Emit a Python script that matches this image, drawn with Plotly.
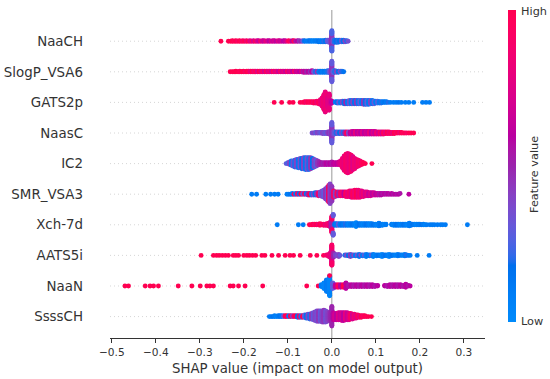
import numpy as np
import plotly.graph_objects as go

# ---------------- data ----------------
# each entry: (SHAP value, number of samples at that value, normalised feature value 0=low..1=high)
features = ["NaaCH", "SlogP_VSA6", "GATS2p", "NaasC", "IC2",
            "SMR_VSA3", "Xch-7d", "AATS5i", "NaaN", "SsssCH"]

naach = [(-0.252,1,1.0),(-0.235,1,1.0),(-0.230,1,1.0),(-0.226,2,1.0),(-0.222,1,0.95),(-0.218,2,1.0),
         (-0.214,1,0.9),(-0.210,2,1.0),(-0.206,1,0.95),(-0.202,2,0.9),(-0.198,1,1.0),(-0.194,2,0.85),
         (-0.190,1,1.0),(-0.186,2,0.75),(-0.182,1,0.9),(-0.178,2,0.7),(-0.174,1,0.95),(-0.170,2,0.75),
         (-0.166,2,0.65),(-0.162,1,0.9),(-0.158,2,0.7),(-0.154,2,0.65),(-0.150,1,0.8),(-0.146,2,0.7),
         (-0.142,2,0.6),(-0.138,1,0.75),(-0.134,2,0.65),(-0.130,2,0.7),(-0.126,1,0.6),(-0.122,2,0.75),
         (-0.118,2,0.65),(-0.114,1,0.7),(-0.110,2,0.6),(-0.106,2,0.65),(-0.102,1,0.75),(-0.098,2,0.95),
         (-0.094,1,0.9),(-0.090,2,0.6),(-0.086,2,0.95),(-0.082,1,0.55),(-0.078,2,0.6),(-0.074,2,0.45),
         (-0.070,1,0.5),(-0.066,2,0.3),(-0.062,2,0.15),(-0.058,1,0.1),(-0.054,2,0.1),(-0.050,2,0.15),
         (-0.046,2,0.1),(-0.042,2,0.05),(-0.038,2,0.1),(-0.034,2,0.1),(-0.030,3,0.15),(-0.026,3,0.1),
         (-0.022,3,0.1),(-0.018,3,0.2),(-0.014,4,0.15),(-0.010,4,0.3),(-0.006,5,0.3),(-0.003,7,0.4),
         (0.0,26,0.45),(0.0,14,0.25),
         (0.003,6,0.35),(0.006,5,0.2),(0.010,5,0.15),(0.014,5,0.2),(0.018,4,0.15),(0.022,4,0.3),
         (0.026,4,0.15),(0.030,3,0.4),(0.034,2,0.2),(0.037,1,0.35)]

slogp_vsa6 = [(-0.231,1,1.0),(-0.226,1,1.0),(-0.222,1,1.0),(-0.218,2,1.0),(-0.213,1,1.0),(-0.209,2,0.95),
              (-0.205,1,1.0),(-0.201,2,1.0),(-0.197,1,0.9),(-0.193,2,1.0),(-0.189,2,0.95),(-0.185,2,0.8),
              (-0.181,2,1.0),(-0.177,2,0.85),(-0.173,2,0.95),(-0.169,2,0.75),(-0.165,2,1.0),(-0.161,2,0.8),
              (-0.157,2,0.9),(-0.153,2,0.7),(-0.149,2,0.95),(-0.145,2,0.75),(-0.141,2,0.85),(-0.137,2,0.7),
              (-0.133,2,0.95),(-0.129,2,0.75),(-0.125,2,0.85),(-0.121,2,0.65),(-0.117,2,0.9),(-0.113,2,0.7),
              (-0.109,2,0.8),(-0.105,2,0.65),(-0.101,2,0.9),(-0.097,2,0.7),(-0.093,2,0.8),(-0.089,2,0.6),
              (-0.085,2,0.9),(-0.081,2,0.65),(-0.077,2,0.7),(-0.073,2,0.6),(-0.069,2,0.75),(-0.065,3,0.55),
              (-0.061,3,0.65),(-0.057,3,0.5),(-0.053,3,0.6),(-0.049,3,0.45),(-0.045,4,0.6),(-0.041,3,0.35),
              (-0.037,3,0.2),(-0.033,3,0.45),(-0.029,3,0.1),(-0.025,3,0.15),(-0.021,3,0.1),(-0.017,3,0.15),
              (-0.013,3,0.1),(-0.009,4,0.2),(-0.005,5,0.3),(-0.002,6,0.4),
              (0.0,28,0.45),(0.0,12,0.3),
              (0.003,5,0.3),(0.007,4,0.2),(0.011,3,0.4),(0.015,3,0.15),(0.019,2,0.35),(0.023,2,0.2),
              (0.027,1,0.15)]

gats2p = [(-0.131,1,1.0),(-0.114,1,1.0),(-0.096,1,1.0),(-0.088,1,1.0),(-0.072,1,1.0),(-0.066,1,0.95),
          (-0.062,2,1.0),(-0.058,2,0.9),(-0.054,2,1.0),(-0.050,2,0.95),(-0.046,2,1.0),(-0.042,3,0.9),
          (-0.038,3,1.0),(-0.034,4,0.85),(-0.030,5,0.95),(-0.026,8,0.85),(-0.022,14,0.8),(-0.018,24,0.85),
          (-0.015,32,0.8),(-0.012,26,0.85),(-0.009,16,0.75),(-0.006,10,0.8),(-0.003,6,0.7),(0.0,4,0.6),
          (0.008,2,0.1),(0.012,3,0.15),(0.016,3,0.3),(0.020,3,0.1),(0.024,4,0.4),(0.028,5,0.15),
          (0.032,5,0.5),(0.036,5,0.1),(0.040,6,0.35),(0.044,6,0.1),(0.048,6,0.4),(0.052,6,0.15),
          (0.056,6,0.45),(0.060,6,0.1),(0.064,6,0.3),(0.068,6,0.1),(0.072,7,0.45),(0.076,7,0.15),
          (0.080,7,0.3),(0.084,7,0.1),(0.088,6,0.4),(0.092,6,0.1),(0.096,5,0.3),(0.100,4,0.1),
          (0.104,4,0.25),(0.108,3,0.1),(0.112,3,0.2),(0.116,2,0.1),(0.120,2,0.15),(0.124,2,0.1),
          (0.128,1,0.2),(0.133,1,0.1),(0.140,1,0.1),(0.146,1,0.1),(0.152,1,0.15),(0.158,1,0.1),
          (0.167,1,0.1),(0.175,1,0.1),(0.186,1,0.1),(0.206,1,0.1),(0.214,1,0.1),(0.222,1,0.1)]

naasc = [(-0.045,1,0.35),(-0.041,1,0.4),(-0.037,2,0.3),(-0.033,2,0.4),(-0.029,2,0.35),(-0.025,2,0.3),
         (-0.021,3,0.4),(-0.017,3,0.35),(-0.013,3,0.3),(-0.009,4,0.4),(-0.006,5,0.45),(-0.003,7,0.4),
         (0.0,28,0.45),(0.0,12,0.3),
         (0.003,7,0.4),(0.006,5,0.3),(0.010,4,0.2),(0.014,4,0.35),(0.018,4,0.15),(0.022,4,0.4),
         (0.026,4,0.2),(0.030,5,0.5),(0.034,5,0.95),(0.038,5,0.4),(0.042,5,0.6),(0.046,6,0.7),
         (0.050,6,0.6),(0.054,6,0.8),(0.058,6,0.6),(0.062,6,0.7),(0.066,6,0.6),(0.070,6,0.75),
         (0.074,6,0.6),(0.078,6,0.7),(0.082,6,0.65),(0.086,6,0.8),(0.090,6,0.6),(0.094,6,0.75),
         (0.098,6,0.65),(0.102,5,0.85),(0.106,5,0.7),(0.110,5,0.9),(0.114,5,0.7),(0.118,5,0.95),
         (0.122,4,0.8),(0.126,4,1.0),(0.130,4,0.85),(0.134,3,0.95),(0.138,3,0.8),(0.142,3,1.0),
         (0.146,2,0.9),(0.150,2,1.0),(0.154,2,0.85),(0.158,2,1.0),(0.162,1,0.95),(0.166,1,1.0),
         (0.170,1,0.9),(0.175,1,1.0),(0.180,1,1.0),(0.186,1,1.0)]

ic2 = [(-0.104,1,0.3),(-0.100,2,0.25),(-0.096,4,0.4),(-0.092,6,0.1),(-0.088,7,0.35),(-0.084,9,0.2),
       (-0.080,10,0.4),(-0.076,11,0.1),(-0.072,12,0.35),(-0.068,13,0.15),(-0.064,14,0.4),(-0.060,15,0.1),
       (-0.056,15,0.35),(-0.052,15,0.2),(-0.048,14,0.45),(-0.044,12,0.15),(-0.040,10,0.4),(-0.036,8,0.3),
       (-0.032,6,0.45),(-0.028,4,0.5),(-0.024,3,0.55),(-0.020,3,0.5),(-0.016,3,0.55),(-0.012,3,0.6),
       (-0.008,3,0.55),(-0.004,3,0.6),(0.0,4,0.55),(0.004,3,0.6),(0.008,3,0.65),(0.012,3,0.6),
       (0.016,4,0.7),(0.020,6,0.75),(0.024,12,0.85),(0.028,18,0.8),(0.032,22,0.9),(0.036,24,0.85),
       (0.040,22,0.8),(0.044,20,0.9),(0.048,16,0.75),(0.052,13,0.85),(0.056,10,0.8),(0.060,8,0.9),
       (0.064,6,0.85),(0.068,4,0.95),(0.072,2,1.0),(0.076,1,1.0),(0.091,1,1.0)]

smr_vsa3 = [(-0.182,1,0.1),(-0.171,1,0.1),(-0.150,1,0.1),(-0.139,1,0.1),(-0.130,1,0.1),(-0.122,1,0.1),
            (-0.102,1,0.1),(-0.098,1,0.1),(-0.094,1,0.15),(-0.090,2,0.1),(-0.086,1,0.95),(-0.082,2,0.1),
            (-0.078,2,0.9),(-0.074,2,0.15),(-0.070,2,1.0),(-0.066,2,0.3),(-0.062,2,0.9),(-0.058,2,0.1),
            (-0.054,3,0.5),(-0.050,3,1.0),(-0.046,3,0.2),(-0.042,3,0.4),(-0.038,4,0.15),(-0.034,4,0.45),
            (-0.030,5,0.9),(-0.026,6,0.35),(-0.022,8,0.4),(-0.018,10,0.3),(-0.014,14,0.45),(-0.010,18,0.35),
            (-0.007,22,0.95),(-0.004,26,0.4),(0.0,20,0.45),(0.004,9,0.9),(0.008,7,0.4),(0.012,6,0.95),
            (0.016,6,0.5),(0.020,6,0.9),(0.024,6,0.85),(0.028,6,0.6),(0.032,7,0.95),(0.036,7,0.8),
            (0.040,8,0.9),(0.044,9,0.75),(0.048,9,0.95),(0.052,10,0.85),(0.056,10,1.0),(0.060,10,0.8),
            (0.064,9,0.9),(0.068,8,0.75),(0.072,7,0.85),(0.076,6,0.7),(0.080,6,0.8),(0.084,5,0.65),
            (0.088,5,0.75),(0.092,4,0.6),(0.096,4,0.7),(0.100,3,0.6),(0.104,3,0.65),(0.108,3,0.55),
            (0.112,3,0.6),(0.116,2,0.55),(0.120,2,0.6),(0.124,2,0.55),(0.128,2,0.6),(0.132,1,0.55),
            (0.136,2,0.6),(0.140,1,0.55),(0.144,1,0.6),(0.148,1,0.55),(0.152,1,0.6),(0.155,1,0.55),
            (0.175,1,0.6)]

xch_7d = [(-0.124,1,0.1),(-0.076,1,0.1),(-0.065,1,0.1),(-0.051,1,1.0),(-0.047,1,0.95),(-0.043,2,1.0),
          (-0.039,2,0.9),(-0.035,2,1.0),(-0.031,2,0.85),(-0.027,2,1.0),(-0.023,2,0.9),(-0.019,3,0.95),
          (-0.015,3,0.8),(-0.011,4,0.9),(-0.007,6,0.85),(-0.003,10,0.7),(0.0,18,0.5),(0.0,12,0.9),
          (0.003,9,0.3),(0.007,4,0.15),(0.011,4,0.1),(0.015,4,0.3),(0.019,4,0.1),(0.023,4,0.15),
          (0.027,4,0.1),(0.031,4,0.2),(0.035,4,0.1),(0.039,4,0.05),(0.043,4,0.1),(0.047,4,0.15),
          (0.051,4,0.1),(0.055,4,0.05),(0.059,4,0.1),(0.063,4,0.15),(0.067,4,0.1),(0.071,4,0.05),
          (0.075,4,0.1),(0.079,4,0.15),(0.083,4,0.1),(0.087,4,0.05),(0.091,4,0.1),(0.095,3,0.15),
          (0.099,3,0.1),(0.103,3,0.05),(0.107,3,0.1),(0.111,3,0.15),(0.115,3,0.1),(0.119,2,0.05),
          (0.123,2,0.1),(0.136,2,0.1),(0.140,3,0.05),(0.144,3,0.1),(0.148,3,0.15),(0.152,3,0.1),
          (0.156,3,0.05),(0.160,3,0.1),(0.164,3,0.15),(0.168,3,0.1),(0.172,3,0.05),(0.176,3,0.1),
          (0.180,3,0.1),(0.184,2,0.15),(0.188,2,0.1),(0.192,2,0.05),(0.196,2,0.1),(0.200,2,0.1),
          (0.204,1,0.15),(0.208,2,0.1),(0.212,1,0.05),(0.216,1,0.1),(0.223,1,0.1),(0.228,1,0.1),
          (0.233,1,0.1),(0.240,1,0.1),(0.247,1,0.1),(0.252,1,0.1),(0.258,1,0.1),(0.308,1,0.1)]

aats5i = [(-0.297,1,1.0),(-0.269,1,1.0),(-0.262,1,1.0),(-0.256,1,1.0),(-0.249,1,1.0),(-0.242,1,1.0),
          (-0.235,1,1.0),(-0.224,1,1.0),(-0.218,1,1.0),(-0.212,1,1.0),(-0.200,1,1.0),(-0.193,1,1.0),
          (-0.187,1,1.0),(-0.180,1,1.0),(-0.173,1,1.0),(-0.159,1,1.0),(-0.152,1,1.0),(-0.136,1,1.0),
          (-0.121,1,1.0),(-0.106,1,1.0),(-0.095,1,1.0),(-0.087,1,1.0),(-0.072,1,1.0),(-0.049,1,1.0),
          (-0.034,1,1.0),(-0.019,1,0.95),(-0.012,2,0.9),(-0.007,5,0.85),(-0.003,10,0.8),
          (0.0,18,0.75),(0.0,12,0.9),
          (0.004,8,0.5),(0.008,4,0.4),(0.012,3,0.35),(0.016,2,0.4),(0.019,1,0.3),
          (0.030,2,0.2),(0.034,2,0.4),(0.038,3,0.15),(0.042,2,0.45),(0.046,3,0.2),(0.050,2,0.4),
          (0.054,3,0.1),(0.058,2,0.35),(0.062,3,0.15),(0.066,2,0.4),(0.070,3,0.1),(0.074,2,0.3),
          (0.078,3,0.1),(0.082,2,0.15),(0.086,3,0.1),(0.090,2,0.3),(0.094,3,0.1),(0.098,2,0.05),
          (0.102,3,0.1),(0.106,2,0.15),(0.110,3,0.1),(0.114,2,0.05),(0.118,3,0.1),(0.122,2,0.15),
          (0.126,3,0.1),(0.130,2,0.05),(0.134,3,0.1),(0.138,2,0.15),(0.142,2,0.1),(0.146,2,0.05),
          (0.150,2,0.1),(0.154,2,0.15),(0.158,2,0.1),(0.162,2,0.05),(0.166,2,0.1),(0.170,2,0.2),
          (0.174,1,0.1),(0.178,1,0.1),(0.194,1,0.1),(0.221,1,0.1)]

naan = [(-0.470,1,1.0),(-0.462,1,1.0),(-0.424,1,1.0),(-0.413,1,1.0),(-0.405,1,1.0),(-0.394,1,1.0),
        (-0.349,1,1.0),(-0.318,1,1.0),(-0.299,1,1.0),(-0.284,1,1.0),(-0.277,1,1.0),(-0.269,1,1.0),
        (-0.231,1,1.0),(-0.224,1,1.0),(-0.212,1,1.0),(-0.197,1,1.0),(-0.157,1,1.0),(-0.057,1,1.0),
        (-0.031,1,1.0),
        (-0.024,4,0.1),(-0.018,10,0.05),(-0.012,20,0.1),(-0.005,33,0.05),(-0.005,1,1.0),(0.002,10,0.3),
        (0.008,5,0.6),(0.014,5,0.95),(0.020,5,0.6),(0.026,5,1.0),(0.032,5,0.6),(0.038,4,0.55),
        (0.044,4,0.6),(0.050,4,0.55),(0.056,4,0.6),(0.062,4,0.55),(0.068,4,0.6),(0.074,4,0.55),
        (0.080,4,0.6),(0.086,4,0.55),(0.092,4,0.6),(0.098,3,0.55),(0.104,2,0.6),(0.120,2,0.6),
        (0.126,3,0.55),(0.132,4,0.6),(0.138,4,0.55),(0.144,4,0.6),(0.150,4,0.55),(0.156,4,0.6),
        (0.162,3,0.55),(0.168,3,0.6),(0.174,2,0.55),(0.178,1,0.6)]

sssch = [(-0.142,1,0.1),(-0.138,1,0.1),(-0.134,1,0.15),(-0.130,2,0.1),(-0.126,1,0.05),(-0.122,2,0.1),
         (-0.118,2,0.15),(-0.114,2,0.1),(-0.110,2,0.3),(-0.106,2,1.0),(-0.102,2,0.95),(-0.098,2,0.1),
         (-0.094,2,1.0),(-0.090,2,0.4),(-0.086,2,0.9),(-0.082,2,1.0),(-0.078,3,0.15),(-0.074,3,0.9),
         (-0.070,3,0.2),(-0.066,3,1.0),(-0.062,4,0.3),(-0.058,5,0.15),(-0.054,6,0.4),(-0.050,7,0.2),
         (-0.046,8,0.45),(-0.042,10,0.3),(-0.038,12,0.4),(-0.034,14,0.35),(-0.030,14,0.45),
         (-0.026,14,0.3),(-0.022,15,0.4),(-0.018,16,0.45),(-0.014,15,0.35),(-0.010,13,0.4),
         (-0.006,11,0.45),(-0.002,12,0.5),(0.0,26,0.5),(0.003,10,0.6),(0.007,9,0.7),(0.011,9,0.6),
         (0.015,10,0.75),(0.019,10,0.65),(0.023,11,0.7),(0.027,11,0.6),(0.031,10,0.8),(0.035,10,0.65),
         (0.039,9,0.75),(0.043,8,0.9),(0.047,7,0.7),(0.051,6,0.85),(0.055,5,0.75),(0.059,4,0.95),
         (0.063,3,0.8),(0.067,3,1.0),(0.071,2,0.9),(0.075,2,1.0),(0.079,1,0.95),(0.083,1,1.0),
         (0.090,1,1.0)]

feature_data = [naach, slogp_vsa6, gats2p, naasc, ic2, smr_vsa3, xch_7d, aats5i, naan, sssch]

x_ticks = [-0.5, -0.4, -0.3, -0.2, -0.1, 0.0, 0.1, 0.2, 0.3]
x_tick_labels = ["\u22120.5", "\u22120.4", "\u22120.3", "\u22120.2", "\u22120.1", "0.0", "0.1", "0.2", "0.3"]
x_label = "SHAP value (impact on model output)"
cbar_high, cbar_low, cbar_title = "High", "Low", "Feature value"


# ---------------- SHAP red_blue colour map (LCH interpolation) ----------------
def lch2rgb(l, c, h):
    a, b = c * np.cos(h), c * np.sin(h)
    fy = (l + 16) / 116.0
    fx, fz = fy + a / 500.0, fy - b / 200.0
    def finv(t):
        return t ** 3 if t ** 3 > 0.008856 else (t - 16 / 116.0) / 7.787
    X, Y, Z = 0.95047 * finv(fx), finv(fy), 1.08883 * finv(fz)
    rgb = [3.2406 * X - 1.5372 * Y - 0.4986 * Z,
           -0.9689 * X + 1.8758 * Y + 0.0415 * Z,
           0.0557 * X - 0.2040 * Y + 1.0570 * Z]
    out = []
    for v in rgb:
        v = 1.055 * v ** (1 / 2.4) - 0.055 if v > 0.0031308 else 12.92 * v
        out.append(int(round(255 * min(max(v, 0.0), 1.0))))
    return out

blue_lch = [54.0, 70.0, 4.6588]
red_lch = [54.0, 90.0, 0.35470565 + 2 * np.pi]
l_mid = 40.0
nsteps = 100
l_vals = list(np.linspace(blue_lch[0], l_mid, nsteps // 2)) + list(np.linspace(l_mid, red_lch[0], nsteps // 2))
c_vals = np.linspace(blue_lch[1], red_lch[1], nsteps)
h_vals = np.linspace(blue_lch[2], red_lch[2], nsteps)
colorscale = []
for p, l, c, h in zip(np.linspace(0, 1, nsteps), l_vals, c_vals, h_vals):
    r, g, b = lch2rgb(l, c, h)
    colorscale.append([float(p), f"rgb({r},{g},{b})"])


# ---------------- beeswarm layout (as in shap.summary_plot) ----------------
def swarm_offsets(shaps, row_height=0.4, nbins=100):
    shaps = np.asarray(shaps, float)
    quant = np.round(nbins * (shaps - shaps.min()) / (shaps.max() - shaps.min() + 1e-8))
    inds = np.argsort(quant, kind="stable")
    ys = np.zeros(len(shaps))
    layer, last_bin = 0, -1
    for ind in inds:
        if quant[ind] != last_bin:
            layer = 0
        ys[ind] = np.ceil(layer / 2) * ((layer % 2) * 2 - 1)
        layer += 1
        last_bin = quant[ind]
    ys *= 0.9 * (row_height / np.max(ys + 1))
    return ys


# ---------------- geometry (page pixels; body margin removed below) ----------------
FIG_W, FIG_H = 550, 379
PL, PR, PT, PB = 110, 485, 10, 338
PW, PH = PR - PL, PB - PT

def px_x(page_x):
    return (page_x - PL) / PW

def px_y(page_y):
    return (PB - page_y) / PH

fig = go.Figure()
n_feat = len(features)
row_pos = [n_feat - 1 - i for i in range(n_feat)]

shapes = []
for pos in row_pos:
    shapes.append(dict(type="line", xref="paper", yref="y", x0=0, x1=1, y0=pos, y1=pos,
                       line=dict(color="#cccccc", width=0.8, dash="1px,3px"), layer="below"))
shapes.append(dict(type="line", xref="x", yref="paper", x0=0, x1=0, y0=0, y1=1,
                   line=dict(color="#999999", width=1), layer="below"))

for i, (name, data) in enumerate(zip(features, feature_data)):
    xs, cs = [], []
    for v, n, c in data:
        xs += [v] * n
        cs += [c] * n
    ys = swarm_offsets(xs)
    fig.add_trace(go.Scatter(
        x=xs, y=row_pos[i] + ys, mode="markers", name=name, hoverinfo="skip",
        marker=dict(size=4.9, color=cs, colorscale=colorscale, cmin=0, cmax=1,
                    line=dict(width=0), opacity=1,
                    showscale=(i == 0),
                    colorbar=dict(x=px_x(508), xanchor="left", xpad=0, ypad=0,
                                  y=px_y(166), yanchor="middle",
                                  thickness=8, thicknessmode="pixels",
                                  len=312, lenmode="pixels",
                                  outlinewidth=0, showticklabels=False, ticks="")),
        showlegend=False))

font_family = "DejaVu Sans, Arial, sans-serif"
annotations = [
    dict(text=cbar_high, xref="paper", yref="paper", x=px_x(519), y=px_y(11),
         xanchor="left", yanchor="middle", showarrow=False,
         font=dict(family=font_family, size=11.3, color="#333333")),
    dict(text=cbar_low, xref="paper", yref="paper", x=px_x(519), y=px_y(321),
         xanchor="left", yanchor="middle", showarrow=False,
         font=dict(family=font_family, size=11.3, color="#333333")),
    dict(text=cbar_title, xref="paper", yref="paper", x=px_x(534), y=px_y(175),
         xanchor="center", yanchor="middle", showarrow=False, textangle=-90,
         font=dict(family=font_family, size=11.3, color="#333333")),
]

fig.update_layout(
    width=FIG_W, height=FIG_H,
    margin=dict(l=PL, r=FIG_W - PR, t=PT, b=FIG_H - PB, autoexpand=False),
    paper_bgcolor="white", plot_bgcolor="white",
    font=dict(family=font_family, color="#333333"),
    shapes=shapes, annotations=annotations,
    xaxis=dict(range=[-0.504, 0.348], tickvals=x_ticks, ticktext=x_tick_labels, automargin=False,
               showgrid=False, zeroline=False, showline=True, linecolor="#333333", linewidth=1,
               ticks="outside", ticklen=4, tickcolor="#333333", tickwidth=1,
               tickfont=dict(family=font_family, size=10.6, color="#333333"),
               title=dict(text=x_label, font=dict(family=font_family, size=13.3, color="#333333"),
                          standoff=6)),
    yaxis=dict(range=[-0.70, 10.02], tickvals=row_pos, ticktext=features, automargin=False,
               showgrid=False, zeroline=False, showline=False, ticks="",
               ticklabelstandoff=26,
               tickfont=dict(family=font_family, size=13.4, color="#333333")),
)

fig.write_html("out.html",
               config={"displayModeBar": False, "staticPlot": True},
               post_script="document.body.style.margin='0';document.body.style.overflow='hidden';")
